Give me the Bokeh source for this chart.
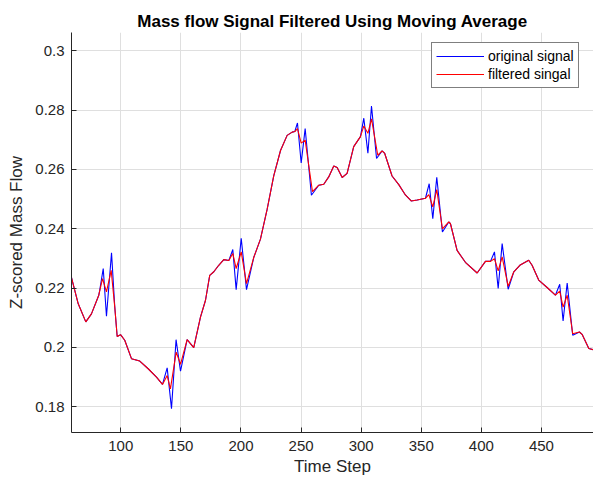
import numpy as np
from bokeh.plotting import figure
from bokeh.models import Range1d, FixedTicker, CustomJSTickFormatter
from bokeh.embed import file_html
from bokeh.resources import INLINE

# ---- data ----
time_orig = [59, 64.6, 70.9, 75.6, 81.7, 82.5, 85.4, 88.1, 92.3, 95.0, 97.0, 99.8,
             103.3, 108.9, 115.8, 122.8, 129.7, 134.7, 138.6, 142.2, 146.0, 149.7,
             155.2, 160.7, 166.3, 170.5, 174.0, 177.4, 181.5, 185.7, 189.9, 193.2,
             196.0, 200.2, 204.6, 210.6, 216.2, 221.8, 227.3, 232.9, 238.4, 242.6,
             244.8, 247.0, 250.1, 253.4, 258.6, 264.7, 268.9, 273.0, 277.2, 280.0,
             284.2, 288.3, 293.8, 299.4, 302.2, 305.6, 308.6, 312.8, 317.4, 319.6,
             325.7, 331.3, 336.8, 341.6, 346.6, 353.5, 356.6, 359.6, 362.9, 367.6,
             372.9, 374.3, 379.8, 386.7, 396.5, 403.4, 407.6, 410.9, 414.0, 417.3,
             422.3, 427.0, 432.0, 439.4, 442.2, 447.7, 454.7, 461.6, 465.2, 468.0,
             471.4, 476.0, 481.6, 483.8, 489.4, 493.3]
signal_orig = [0.2235, 0.2147, 0.2086, 0.2113, 0.2176, 0.2193, 0.2266, 0.2105, 0.2319, 0.2136,
               0.2037, 0.2043, 0.2024, 0.1962, 0.1954, 0.1928, 0.1900, 0.1875, 0.1931, 0.1793,
               0.2026, 0.1920, 0.2026, 0.1999, 0.2102, 0.2159, 0.2243, 0.2255, 0.2277, 0.2296,
               0.2293, 0.2330, 0.2195, 0.2368, 0.2195, 0.2303, 0.2365, 0.2466, 0.2579, 0.2664,
               0.2715, 0.2726, 0.2728, 0.2757, 0.2622, 0.2738, 0.2513, 0.2547, 0.2550, 0.2575,
               0.2612, 0.2607, 0.2573, 0.2587, 0.2677, 0.2711, 0.2773, 0.2655, 0.2814, 0.2637,
               0.2663, 0.2654, 0.2578, 0.2549, 0.2514, 0.2494, 0.2497, 0.2503, 0.2552, 0.2434,
               0.2574, 0.2389, 0.2423, 0.2417, 0.2327, 0.2287, 0.2251, 0.2290, 0.2290, 0.2322,
               0.2199, 0.2350, 0.2196, 0.2255, 0.2277, 0.2294, 0.2277, 0.2227, 0.2202, 0.2176,
               0.2213, 0.2089, 0.2217, 0.2041, 0.2052, 0.2044, 0.1996, 0.1992]

time_filt = [59, 64.6, 70.9, 75.6, 81.7, 84.8, 88.1, 92.0, 95.0, 97.0, 99.8,
             103.3, 108.9, 115.8, 122.8, 129.7, 134.7, 138.6, 141.3, 146.1, 149.7,
             155.2, 160.7, 166.3, 170.5, 174.0, 177.4, 181.5, 185.7, 189.9, 193.2,
             196.0, 200.2, 204.6, 210.6, 216.2, 221.8, 227.3, 232.9, 238.4, 242.6,
             244.8, 247.0, 250.1, 253.4, 259.5, 264.7, 268.9, 273.0, 277.2, 280.0,
             284.2, 288.3, 293.8, 299.4, 302.2, 305.6, 308.6, 313.8, 317.4, 319.6,
             325.7, 331.3, 336.8, 341.6, 346.6, 353.5, 356.3, 359.6, 362.9, 367.6,
             372.9, 374.3, 379.8, 386.7, 396.5, 403.4, 407.6, 410.9, 414.0, 417.3,
             422.3, 427.0, 432.0, 439.4, 442.2, 447.7, 454.7, 461.6, 465.2, 468.0,
             471.4, 476.0, 481.6, 483.8, 489.4, 493.3]
signal_filt = [0.2235, 0.2147, 0.2086, 0.2113, 0.2176, 0.2232, 0.2187, 0.2260, 0.2136,
               0.2037, 0.2043, 0.2024, 0.1962, 0.1954, 0.1928, 0.1900, 0.1875, 0.1905, 0.1860,
               0.1984, 0.1943, 0.2026, 0.1999, 0.2102, 0.2159, 0.2243, 0.2255, 0.2277, 0.2296,
               0.2293, 0.2317, 0.2266, 0.2322, 0.2215, 0.2303, 0.2365, 0.2466, 0.2579, 0.2664,
               0.2715, 0.2726, 0.2728, 0.2738, 0.2689, 0.2699, 0.2525, 0.2547, 0.2550, 0.2575,
               0.2612, 0.2607, 0.2573, 0.2587, 0.2677, 0.2711, 0.2747, 0.2722, 0.2771, 0.2648,
               0.2663, 0.2654, 0.2578, 0.2549, 0.2514, 0.2494, 0.2497, 0.2503, 0.2515, 0.2474,
               0.2532, 0.2400, 0.2423, 0.2417, 0.2327, 0.2287, 0.2251, 0.2290, 0.2290, 0.2299,
               0.2258, 0.2305, 0.2206, 0.2255, 0.2277, 0.2294, 0.2277, 0.2227, 0.2202, 0.2176,
               0.2190, 0.2136, 0.2176, 0.2046, 0.2052, 0.2044, 0.1996, 0.1992]

x_ticks = [100, 150, 200, 250, 300, 350, 400, 450]
y_ticks = [0.18, 0.20, 0.22, 0.24, 0.26, 0.28, 0.30]

FONT = "Liberation Sans"
TXT = "#262626"

p = figure(width=593, height=479, output_backend="svg", toolbar_location=None,
           x_range=Range1d(59.0, 493.3), y_range=Range1d(0.1713, 0.3062),
           min_border_left=71, min_border_right=0, min_border_top=32, min_border_bottom=47,
           title="Mass flow Signal Filtered Using Moving Average")

p.title.align = "center"
p.title.text_font = FONT
p.title.text_font_size = "17px"
p.title.text_font_style = "bold"
p.title.text_color = "#000000"
p.title.standoff = 4

p.outline_line_color = None
p.background_fill_color = "white"
p.border_fill_color = "white"

for ax in (p.xaxis[0], p.yaxis[0]):
    ax.axis_line_color = TXT
    ax.axis_line_width = 1
    ax.major_tick_line_color = TXT
    ax.major_tick_in = 5
    ax.major_tick_out = 0
    ax.minor_tick_line_color = None
    ax.major_label_text_font = FONT
    ax.major_label_text_font_size = "15px"
    ax.major_label_text_color = TXT
    ax.axis_label_text_font = FONT
    ax.axis_label_text_font_size = "17px"
    ax.axis_label_text_font_style = "normal"
    ax.axis_label_text_color = TXT

p.xaxis.ticker = FixedTicker(ticks=x_ticks)
p.yaxis.ticker = FixedTicker(ticks=y_ticks)
p.yaxis.formatter = CustomJSTickFormatter(code="return tick.toFixed(2).replace(/0$/, '');")
p.xaxis.axis_label = "Time Step"
p.yaxis.axis_label = "Z-scored Mass Flow"
p.xaxis.major_label_standoff = 8
p.xaxis.axis_label_standoff = 3
p.yaxis.major_label_standoff = 7
p.yaxis.axis_label_standoff = 6

p.grid.grid_line_color = "#dfdfdf"
p.grid.grid_line_width = 1

p.line(time_orig, signal_orig, line_color="#0000ff", line_width=1.1, legend_label="original signal")
p.line(time_filt, signal_filt, line_color="#ff0000", line_width=1.1, legend_label="filtered singal")

lg = p.legend[0]
lg.location = (360, 344)
lg.border_line_color = "#000000"
lg.border_line_width = 1
lg.background_fill_color = "white"
lg.background_fill_alpha = 1
lg.label_text_font = FONT
lg.label_text_font_size = "14px"
lg.label_text_color = "#000000"
lg.glyph_width = 48
lg.glyph_height = 18
lg.label_height = 18
lg.label_standoff = 4
lg.padding = 4
lg.spacing = 0
lg.margin = 0

open("out.html", "w").write(file_html(p, INLINE))
